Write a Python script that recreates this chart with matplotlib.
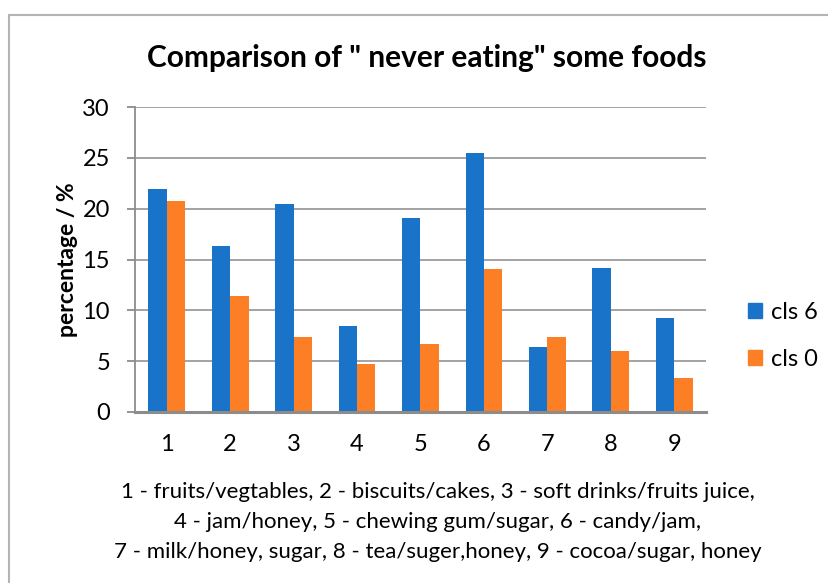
import matplotlib
matplotlib.use('Agg')
import matplotlib.pyplot as plt
from matplotlib.patches import Patch, Rectangle
import numpy as np

# data
categories = ['1', '2', '3', '4', '5', '6', '7', '8', '9']
cls6 = [21.9, 16.3, 20.5, 8.5, 19.1, 25.5, 6.4, 14.2, 9.2]
cls0 = [20.8, 11.4, 7.4, 4.7, 6.7, 14.1, 7.4, 6.0, 3.3]
series_names = ['cls 6', 'cls 0']
footer_lines = [
    '1 - fruits/vegtables, 2 - biscuits/cakes, 3 - soft drinks/fruits juice,',
    '4 - jam/honey, 5 - chewing gum/sugar, 6 - candy/jam,',
    '7 - milk/honey, sugar, 8 - tea/suger,honey, 9 - cocoa/sugar, honey',
]

plt.rcParams['font.family'] = ['Lato', 'DejaVu Sans']

W, H = 829, 583
fig = plt.figure(figsize=(W / 100, H / 100), dpi=100)

# chart border (cut off on right and bottom)
fig.patches.append(Rectangle((9.5 / W, -0.1), 2, 1 - 15.5 / H + 0.1,
                             transform=fig.transFigure, fill=False,
                             edgecolor='#b4b4b4', linewidth=1.5))

ax = fig.add_axes([135 / W, (H - 412) / H, 571 / W, 305 / H])

blue = '#1873c9'
orange = '#fd7f25'
x = np.arange(len(categories))
bw = 0.29
ax.bar(x - bw / 2, cls6, width=bw, color=blue, label=series_names[0], zorder=3)
ax.bar(x + bw / 2, cls0, width=bw, color=orange, label=series_names[1], zorder=3)

ax.set_xlim(-0.5, len(categories) - 0.5)
ax.set_ylim(0, 30)
ax.set_yticks(range(0, 31, 5))
ax.set_xticks(x)
ax.set_xticklabels(categories)
ax.grid(axis='y', color='#9c9c9c', linewidth=1.3, zorder=0)
for s in ['top', 'right']:
    ax.spines[s].set_visible(False)
ax.spines['left'].set_color('#8c8c8c')
ax.spines['left'].set_linewidth(1.3)
ax.spines['bottom'].set_color('#8c8c8c')
ax.spines['bottom'].set_linewidth(2.2)
ax.spines['bottom'].set_zorder(4)
ax.tick_params(axis='y', length=6, width=1.3, color='#8c8c8c', pad=12, labelsize=17)
ax.tick_params(axis='x', length=0, pad=16, labelsize=17)

ax.set_ylabel('percentage / %', fontsize=16.5, fontweight='bold')
ax.yaxis.set_label_coords(-0.1, 0.5)

fig.text(427 / W, 1 - 58 / H, 'Comparison of " never eating" some foods',
         ha='center', va='center', fontsize=21.5, fontweight='bold')

handles = [Patch(color=blue), Patch(color=orange)]
fig.legend(handles, series_names, loc='center left',
           bbox_to_anchor=(727 / W, 1 - 336 / H), frameon=False,
           fontsize=17, handlelength=0.6, handleheight=0.6,
           handletextpad=0.35, labelspacing=1.1)

for i, line in enumerate(footer_lines):
    fig.text(438 / W, 1 - (492 + 30 * i) / H, line, ha='center', va='center',
             fontsize=16)

fig.savefig('out.png', dpi=100)
